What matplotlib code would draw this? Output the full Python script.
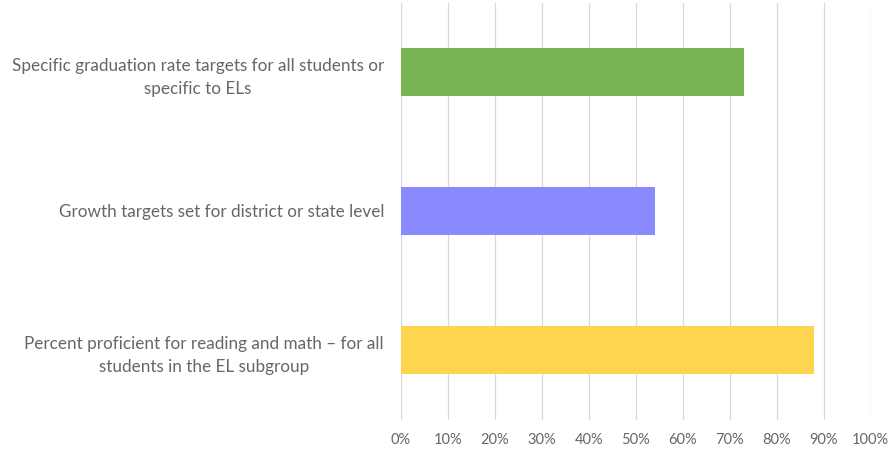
import numpy as np
import matplotlib.pyplot as plt
from matplotlib.ticker import PercentFormatter

# categories, bottom to top
labels = [
    "Percent proficient for reading and math \u2013 for all\nstudents in the EL subgroup",
    "Growth targets set for district or state level",
    "Specific graduation rate targets for all students or\nspecific to ELs",
]
values = [88, 54, 73]
colors = ["#ffd44f", "#8a8aff", "#7ab554"]

plt.rcParams["font.family"] = ["Lato", "DejaVu Sans"]

fig = plt.figure(figsize=(8.93, 4.54), dpi=100)
ax = fig.add_axes([400.7 / 893, 1 - 419.5 / 454, 470 / 893, 417 / 454])

y = np.arange(len(labels))
ax.barh(y, values, height=0.35, color=colors, zorder=3)

ax.set_xlim(0, 100)
ax.set_ylim(-0.5, len(labels) - 0.5)
ax.set_xticks(np.arange(0, 101, 10))
ax.xaxis.set_major_formatter(PercentFormatter(decimals=0))
ax.set_yticks(y)
ax.set_yticklabels(labels, ha="right", multialignment="center", linespacing=1.6)
ax.tick_params(axis="y", pad=12, length=0, labelsize=12.3, labelcolor="#666666")
ax.tick_params(axis="x", length=0, pad=10, labelsize=10.5, labelcolor="#666666")

ax.grid(axis="x", color="#d9d9d9", linewidth=0.9, zorder=0)
for s in ax.spines.values():
    s.set_visible(False)

fig.savefig("out.png", dpi=100)
